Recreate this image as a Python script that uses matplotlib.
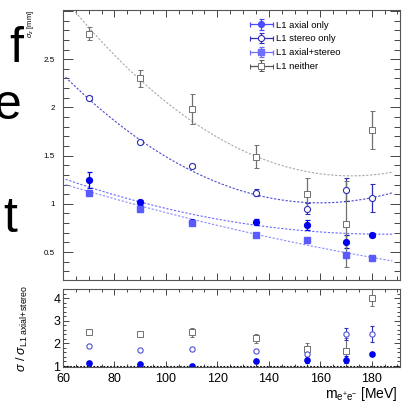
import numpy as np
import matplotlib
matplotlib.use("Agg")
import matplotlib.pyplot as plt
from matplotlib.ticker import MultipleLocator, FuncFormatter
from matplotlib.container import ErrorbarContainer
from matplotlib.legend_handler import HandlerErrorbar

plt.rcParams['font.family'] = ['Liberation Sans', 'DejaVu Sans']
plt.rcParams['mathtext.fontset'] = 'custom'
plt.rcParams['mathtext.rm'] = 'Liberation Sans'
plt.rcParams['mathtext.it'] = 'Liberation Sans:italic'
plt.rcParams['mathtext.bf'] = 'Liberation Sans:bold'

# mass points [MeV]
mass = [70, 90, 110, 135, 155, 170, 180]

# vertex resolution sigma_z [mm]
sig_axial = [1.248, 1.015, 0.81, 0.81, 0.78, 0.607, 0.676]
err_axial = [0.08, 0.025, 0.02, 0.03, 0.055, 0.07, 0.02]
sig_stereo = [2.093, 1.64, 1.393, 1.117, 0.95, 1.145, 1.06]
err_stereo = [0.02, 0.02, 0.025, 0.04, 0.06, 0.12, 0.145]
sig_both = [1.11, 0.95, 0.80, 0.672, 0.625, 0.473, 0.44]
err_both = [0.01, 0.01, 0.01, 0.01, 0.01, 0.01, 0.01]
sig_neither = [2.765, 2.30, 1.985, 1.49, 1.107, 0.79, 1.765]
err_neither = [0.07, 0.085, 0.157, 0.12, 0.16, 0.45, 0.2]

# errors on the ratio (read from lower pad)
rerr_axial = [0.05, 0.03, 0.03, 0.05, 0.1, 0.16, 0.05]
rerr_stereo = [0.03, 0.03, 0.04, 0.06, 0.1, 0.26, 0.35]
rerr_neither = [0.06, 0.06, 0.2, 0.2, 0.24, 0.55, 0.38]

# pol2 fits, written as [m0, ymin, k] -> ymin + k*(m-m0)^2
fit_axial = [185, 0.685, 3.7e-5]
fit_stereo = [160, 1.01, 1.33e-4]
fit_both = [354, 0.034, 1.356e-5]
fit_neither = [172, 1.29, 1.48e-4]
fit_range = [61, 188]

labels = ['L1 axial only', 'L1 stereo only', 'L1 axial+stereo', 'L1 neither']

c_axial = '#0000ee'
c_stereo = '#2e2eb8'
c_both = '#5a5aff'
c_neither = '#707070'

W, H = 411, 412
fig = plt.figure(figsize=(W / 100, H / 100), dpi=100)
ax = fig.add_axes([63 / W, 1 - 280 / H, 337 / W, 270 / H])
axr = fig.add_axes([63 / W, 1 - 367 / H, 337 / W, 78 / H])


def pol2(p, m):
    return p[1] + p[2] * (m - p[0]) ** 2


mm = np.linspace(fit_range[0], fit_range[1], 200)
ax.plot(mm, pol2(fit_neither, mm), color='#a8a8a8', lw=0.8, ls=(0, (2, 1.5)))
ax.plot(mm, pol2(fit_stereo, mm), color='#4848d0', lw=0.8, ls=(0, (2, 1.5)))
ax.plot(mm, pol2(fit_axial, mm), color='#6a6aff', lw=0.8, ls=(0, (2, 1.5)))
ax.plot(mm, pol2(fit_both, mm), color='#8a8aff', lw=0.8, ls=(0, (2, 1.5)))

eb = dict(capsize=1.8, elinewidth=0.9, capthick=0.9, ls='none')
st_axial = dict(fmt='o', ms=4.2, color=c_axial)
st_stereo = dict(fmt='o', ms=4.4, mfc='white', mec=c_stereo, mew=0.8, color=c_stereo)
st_both = dict(fmt='s', ms=4.0, color=c_both)
st_neither = dict(fmt='s', ms=5.0, mfc='white', mec=c_neither, mew=0.7, color=c_neither)

ax.errorbar(mass, sig_axial, yerr=err_axial, **st_axial, **eb)
ax.errorbar(mass, sig_stereo, yerr=err_stereo, **st_stereo, **eb)
ax.errorbar(mass, sig_both, yerr=err_both, **st_both, **eb)
ax.errorbar(mass, sig_neither, yerr=err_neither, **st_neither, **eb)

# legend entries drawn like ROOT "LPE": line + marker + error bar
handles = []
for st, c in [(st_axial, '#4c4cff'), (st_stereo, '#2e2eb8'),
              (st_both, '#7070ff'), (st_neither, '#555555')]:
    kw = dict(st)
    kw['color'] = c
    handles.append(ax.errorbar([-100], [-100], xerr=[1], yerr=[1], **kw, **eb))

ax.legend(handles, labels, loc='upper left', bbox_to_anchor=(0.535, 0.985),
          frameon=False, fontsize=6.8, handlelength=2.4, handletextpad=0.35,
          labelspacing=0.5, borderpad=0.2,
          handler_map={ErrorbarContainer: HandlerErrorbar(xerr_size=1.2, yerr_size=0.55)})

# ratio pad
ref = np.array(sig_both)
eb2 = dict(capsize=1.3, elinewidth=0.8, capthick=0.8, ls='none')
axr.axhline(1, color='black', lw=0.8, ls=(0, (1.5, 1.5)))
axr.errorbar(mass, np.array(sig_neither) / ref, yerr=rerr_neither, fmt='s', ms=4.0,
             mfc='white', mec=c_neither, mew=0.7, color=c_neither, **eb2)
axr.errorbar(mass, np.array(sig_stereo) / ref, yerr=rerr_stereo, fmt='o', ms=3.8,
             mfc='white', mec='#5050d8', mew=0.8, color='#3030c0', **eb2)
axr.errorbar(mass, np.array(sig_axial) / ref, yerr=rerr_axial, fmt='o', ms=3.8,
             color=c_axial, **eb2)

fmt = FuncFormatter(lambda v, p: '' if v > 2.9 else f'{v:g}')
for a in (ax, axr):
    a.set_xlim(60, 191)
    a.xaxis.set_major_locator(MultipleLocator(20))
    a.xaxis.set_minor_locator(MultipleLocator(5))
    a.tick_params(which='both', direction='in', top=True, right=True,
                  color='#444444', width=0.7)
    for s in a.spines.values():
        s.set_color('#555555')
        s.set_linewidth(0.8)

ax.set_ylim(0.21, 3.01)
ax.yaxis.set_major_locator(MultipleLocator(0.5))
ax.yaxis.set_minor_locator(MultipleLocator(0.1))
ax.yaxis.set_major_formatter(fmt)
ax.tick_params(axis='y', which='major', length=7, labelsize=5.8, pad=6)
ax.tick_params(axis='y', which='minor', length=4)
ax.tick_params(axis='x', which='major', length=5, labelbottom=False)
ax.tick_params(axis='x', which='minor', length=3)

axr.set_ylim(0.956, 4.4)
axr.yaxis.set_major_locator(MultipleLocator(1))
axr.yaxis.set_minor_locator(MultipleLocator(0.2))
axr.tick_params(axis='both', which='major', length=4, labelsize=9)
axr.tick_params(axis='y', which='major', pad=2)
axr.tick_params(axis='x', which='major', pad=4)
axr.tick_params(axis='both', which='minor', length=2)

fig.text(30 / W, 1 - 10 / H, r'$\sigma_{z}$ [mm]', rotation=90, ha='center', va='top',
         fontsize=5.5)
fig.text(22 / W, 1 - 328 / H, r'$\sigma$ / $\sigma_{\mathrm{L1\ axial\!+\!stereo}}$',
         rotation=90, ha='center', va='center', fontsize=9)
fig.text(398 / W, 1 - 398 / H, r'm$_{\mathrm{e^{+}e^{-}}}$ [MeV]', ha='right',
         va='baseline', fontsize=10)

# slide text cut off on the left
fig.text(23 / W, 1 - 62 / H, 'f', ha='right', va='baseline', fontsize=36)
fig.text(22 / W, 1 - 119 / H, 'e', ha='right', va='baseline', fontsize=36)
fig.text(17 / W, 1 - 232 / H, 't', ha='right', va='baseline', fontsize=36)

fig.savefig('out.png', dpi=100)
